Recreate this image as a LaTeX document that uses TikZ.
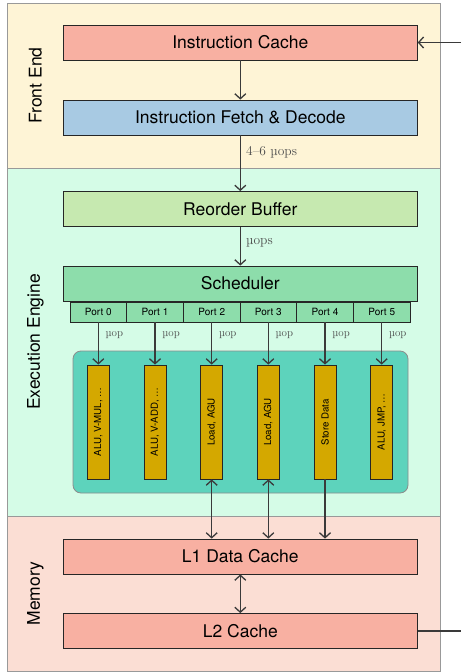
\documentclass[tikz,border=0pt]{standalone}
\usepackage{fontspec}
\setsansfont{TeX Gyre Heros}
\usepackage{tikz}
\usetikzlibrary{arrows.meta}

\definecolor{frontbg}{HTML}{FEF4D6}
\definecolor{execbg}{HTML}{D5FCE7}
\definecolor{membg}{HTML}{FBDED4}
\definecolor{cachecol}{HTML}{F8B0A2}
\definecolor{decodecol}{HTML}{A8CAE3}
\definecolor{robcol}{HTML}{C6E9B0}
\definecolor{schedcol}{HTML}{8DDDAB}
\definecolor{execcol}{HTML}{5DD3BC}
\definecolor{unitcol}{HTML}{D4A800}
\definecolor{wirecol}{HTML}{3A3A3A}

\tikzset{
  region/.style={draw=black!40, line width=0.8pt, inner sep=0pt},
  regiontext/.style={rotate=90, font=\sffamily\fontsize{17.5}{20}\selectfont},
  block/.style={draw=black!85, line width=0.8pt, minimum width=354pt, minimum height=35pt,
    inner sep=0pt, font=\sffamily\fontsize{17.5}{20}\selectfont},
  portbox/.style={draw=black!85, line width=0.8pt, fill=schedcol, minimum width=56.7pt,
    minimum height=20pt, inner sep=0pt, font=\sffamily\fontsize{10}{12}\selectfont},
  unitbox/.style={draw=black!85, line width=0.8pt, fill=unitcol, minimum width=22pt,
    minimum height=114pt, inner sep=0pt},
  unittext/.style={rotate=90, font=\sffamily\fontsize{9.7}{11}\selectfont},
  wire/.style={draw=wirecol, line width=1.3pt, >={Straight Barb[length=5pt,width=11pt]}},
  flowlabel/.style={anchor=west, text=black!70, inner sep=0pt},
}

\begin{document}
\begin{tikzpicture}[x=1pt, y=-1pt]
\useasboundingbox (0,0) rectangle (461,672);

% Regiones
\node[region, fill=frontbg, minimum width=433pt, minimum height=165pt] (front) at (223.5,85.5) {};
\node[region, fill=execbg, minimum width=433pt, minimum height=348pt] (exec) at (223.5,342) {};
\node[region, fill=membg, minimum width=433pt, minimum height=155pt] (mem) at (223.5,593.5) {};
\node[regiontext] (fronttext) at (35.5,85.5) {Front End};
\node[regiontext] (exectext) at (35.5,342) {Execution Engine};
\node[regiontext] (memtext) at (35.5,593.5) {Memory};

% Front End
\node[block, fill=cachecol] (icache) at (240.3,42.5) {Instruction Cache};
\node[block, fill=decodecol] (decode) at (240.3,117.5) {Instruction Fetch \& Decode};

% Execution Engine
\node[block, fill=robcol] (rob) at (240.3,209) {Reorder Buffer};
\node[block, fill=schedcol] (sched) at (240.3,283.5) {Scheduler};

\node[portbox] (p0) at (98.3,312) {Port 0};
\node[portbox] (p1) at (155,312) {Port 1};
\node[portbox] (p2) at (211.7,312) {Port 2};
\node[portbox] (p3) at (268.3,312) {Port 3};
\node[portbox] (p4) at (325,312) {Port 4};
\node[portbox] (p5) at (381.7,312) {Port 5};

\node[draw=black!45, line width=0.8pt, fill=execcol, rounded corners=8pt,
  minimum width=335pt, minimum height=142pt] (units) at (240.5,422) {};

\node[unitbox] (u0) at (98.3,422) {};
\node[unitbox] (u1) at (155,422) {};
\node[unitbox] (u2) at (211.7,422) {};
\node[unitbox] (u3) at (268.3,422) {};
\node[unitbox] (u4) at (325,422) {};
\node[unitbox] (u5) at (381.7,422) {};
\node[unittext] at (u0) {ALU, V-MUL, \dots};
\node[unittext] at (u1) {ALU, V-ADD, \dots};
\node[unittext] at (u2) {Load, AGU};
\node[unittext] at (u3) {Load, AGU};
\node[unittext] at (u4) {Store Data};
\node[unittext] at (u5) {ALU, JMP, \dots};

% Memory
\node[block, fill=cachecol] (l1) at (240.3,556.5) {L1 Data Cache};
\node[block, fill=cachecol] (l2) at (240.3,631) {L2 Cache};

% Flechas
\coordinate (inpt) at (461,42.5);
\coordinate (outpt) at (461,631);
\draw[wire, ->] (inpt) -- (icache.east);
\draw[wire] (l2.east) -- (outpt);

\draw[wire, ->] (icache) -- (decode);
\draw[wire, ->] (decode) -- (rob);
\node[flowlabel, font=\fontsize{13.5}{15}\selectfont] at (246,152) {4--6 µops};
\draw[wire, ->] (rob) -- (sched);
\node[flowlabel, font=\fontsize{13.5}{15}\selectfont] at (246,243) {µops};

\draw[wire, ->] (p0) -- (u0);
\draw[wire, ->] (p1) -- (u1);
\draw[wire, ->] (p2) -- (u2);
\draw[wire, ->] (p3) -- (u3);
\draw[wire, ->] (p4) -- (u4);
\draw[wire, ->] (p5) -- (u5);
\node[flowlabel, font=\fontsize{11}{13}\selectfont] at (105.5,335) {µop};
\node[flowlabel, font=\fontsize{11}{13}\selectfont] at (162.2,335) {µop};
\node[flowlabel, font=\fontsize{11}{13}\selectfont] at (218.9,335) {µop};
\node[flowlabel, font=\fontsize{11}{13}\selectfont] at (275.5,335) {µop};
\node[flowlabel, font=\fontsize{11}{13}\selectfont] at (332.2,335) {µop};
\node[flowlabel, font=\fontsize{11}{13}\selectfont] at (388.9,335) {µop};

\draw[wire, <->] (u2.south) -- (u2.south |- l1.north);
\draw[wire, <->] (u3.south) -- (u3.south |- l1.north);
\draw[wire, ->] (u4.south) -- (u4.south |- l1.north);
\draw[wire, <->] (l1) -- (l2);
\end{tikzpicture}
\end{document}
